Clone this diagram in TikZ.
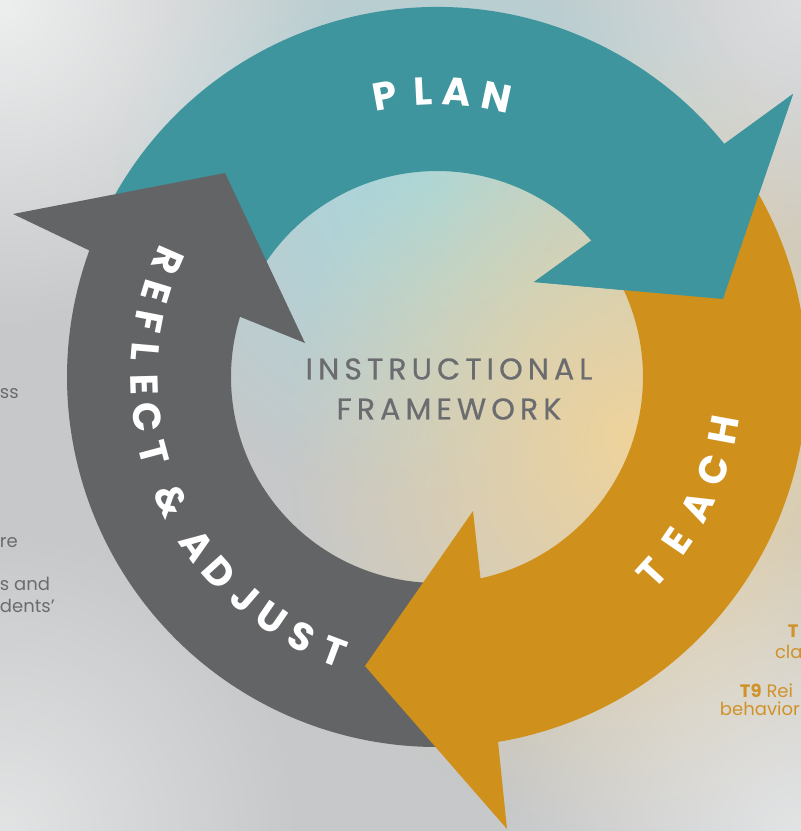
\documentclass[tikz,border=0pt]{standalone}
\usepackage{fontspec}
\setmainfont{Poppins}
\newfontfamily\centerfont[LetterSpace=17, FakeBold=0.6]{Poppins}
\usetikzlibrary{fadings}
\definecolor{tealarrow}{HTML}{3E959D}
\definecolor{orangearrow}{HTML}{CF911B}
\definecolor{grayarrow}{HTML}{636466}
\definecolor{labelgray}{HTML}{6B6C6F}
\definecolor{sideorange}{HTML}{D0922A}
\definecolor{bgbase}{HTML}{C6C8C9}
\definecolor{bgblue}{HTML}{A6D8DE}
\definecolor{bgsand}{HTML}{EED39C}
\tikzfading[name=softblob, inner color=transparent!0, outer color=transparent!100]
\tikzset{
    every node/.style={inner sep=0pt, outer sep=0pt}
}
\tikzset{
    letter/.style={text=white, font=\fontsize{39}{39}\selectfont\bfseries},
    side/.style={anchor=base west, font=\fontsize{18}{18}\selectfont},
    blob/.style={path fading=softblob}
}

\begin{document}
\begin{tikzpicture}[x=1pt, y=1pt]
	\useasboundingbox (-437,-454) rectangle (364,377);
	\fill[bgbase] (-437,-454) rectangle (364,377);
	\fill[bgblue, blob] (0,190) ellipse (330 and 320);
	\fill[bgsand, blob] (190,-60) ellipse (340 and 400);
	\fill[white, opacity=.7, blob] (-437,377) circle (330);
	\fill[white, opacity=.5, blob] (364,-454) circle (300);
	\fill[white, opacity=.5, blob] (-437,-454) circle (300);
	\fill[white, opacity=.4, blob] (364,377) circle (250);

	\fill[tealarrow] (155:370) arc[start angle=155, end angle=39, radius=370]
		-- (356,283) -- (286,78) -- (97,95)
		-- (41.4:206) arc[start angle=41.4, end angle=155, radius=206] -- cycle;
	\fill[grayarrow] (273:370) arc[start angle=273, end angle=160, radius=370]
		-- (-424,163) -- (-212,204) -- (-132,34)
		-- (163:206) arc[start angle=163, end angle=273, radius=206] -- cycle;
	\fill[orangearrow] (33:370) arc[start angle=33, end angle=-80.5, radius=370]
		-- (70,-452) -- (-72,-289) -- (36,-134)
		-- (-77.8:206) arc[start angle=-77.8, end angle=33, radius=206] -- cycle;
	\fill[tealarrow] (356,283) -- (286,78) -- (97,95) -- cycle;

	\foreach \ch/\a [count=\i] in {P/100.4,L/92.8,A/86,N/77.9}
		\node (plan\i) [letter, rotate=\a-90] at (\a:286) {\ch};
	\foreach \ch/\a [count=\i] in {T/-42.4,E/-34.3,A/-26.4,C/-18.6,H/-10.4}
		\node (teach\i) [letter, rotate=\a+90] at (\a:291) {\ch};
	\foreach \ch/\a [count=\i] in {R/156.5,E/163,F/169,L/175,E/181.5,C/188,T/195,\&/205,A/215,D/222,J/229,U/235.5,S/242.5,T/249.5}
		\node (reflect\i) [letter, rotate=\a+90] at (\a:293) {\ch};

	\node (title) [align=center, text=labelgray, font=\fontsize{30}{40}\centerfont] at (12,-12) {INSTRUCTIONAL\\FRAMEWORK};

	\node (l1) [side, text=labelgray] at (-437,-21) {ss};
	\node (l2) [side, text=labelgray] at (-437,-170) {re};
	\node (l3) [side, text=labelgray] at (-437,-213) {s and};
	\node (l4) [side, text=labelgray] at (-437,-235) {dents’};
	\node (r1) [side, text=sideorange] at (351,-260) {\textbf{T}};
	\node (r2) [side, text=sideorange] at (338,-281) {cla};
	\node (r3) [side, text=sideorange] at (303,-320) {\textbf{T9} Rei};
	\node (r4) [side, text=sideorange] at (283,-338) {behavior};
\end{tikzpicture}
\end{document}
